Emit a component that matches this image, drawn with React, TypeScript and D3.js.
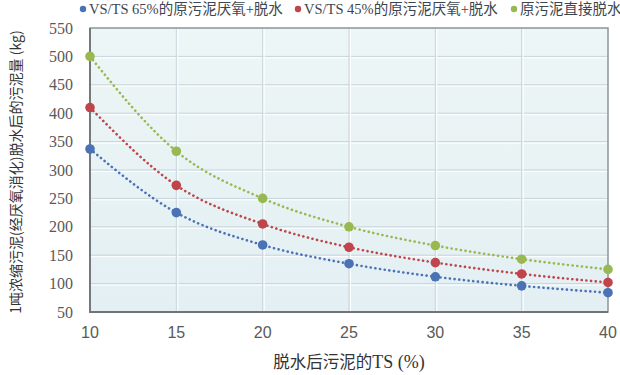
// 污泥量随脱水后TS变化 — Excel 风格平滑虚线图
import React, { useEffect, useRef } from 'react';
import * as d3 from 'd3';

const tsValues = [10, 15, 20, 25, 30, 35, 40];
const digested65 = [337, 225, 168, 135, 112, 96, 84];
const digested45 = [410, 273, 205, 164, 137, 117, 102];
const rawDewatered = [500, 333, 250, 200, 167, 143, 125];

const seriesNames = ['VS/TS 65%的原污泥厌氧+脱水', 'VS/TS 45%的原污泥厌氧+脱水', '原污泥直接脱水'];
const seriesColors = ['#4a72b5', '#c0444a', '#97b94f'];
const yTicks = [50, 100, 150, 200, 250, 300, 350, 400, 450, 500, 550];

const WIDTH = 620;
const HEIGHT = 375;

const App: React.FC = () => {
  const svgRef = useRef<SVGSVGElement>(null);

  useEffect(() => {
    if (!svgRef.current) return;
    const svg = d3.select(svgRef.current);
    svg.selectAll('*').remove();

    const left = 90, right = 608, top = 28, bottom = 312;

    const x = d3.scaleLinear().domain([10, 40]).range([left, right]);
    const y = d3.scaleLinear().domain([50, 550]).range([bottom, top]);

    // фон области построения
    const defs = svg.append('defs');
    const grad = defs.append('linearGradient')
      .attr('id', 'plot-bg')
      .attr('x1', '0%').attr('y1', '0%')
      .attr('x2', '0%').attr('y2', '100%');
    grad.append('stop').attr('offset', '0%').attr('stop-color', '#edf6f6');
    grad.append('stop').attr('offset', '100%').attr('stop-color', '#e3eff3');

    svg.append('rect')
      .attr('x', left).attr('y', top)
      .attr('width', right - left).attr('height', bottom - top)
      .attr('fill', 'url(#plot-bg)');

    // сетка
    const grid = svg.append('g');
    yTicks.slice(1, -1).forEach((t) => {
      grid.append('line')
        .attr('x1', left).attr('x2', right)
        .attr('y1', y(t)).attr('y2', y(t))
        .attr('stroke', '#c6d6dc').attr('stroke-width', 1);
      grid.append('line')
        .attr('x1', left).attr('x2', right)
        .attr('y1', y(t) + 1.5).attr('y2', y(t) + 1.5)
        .attr('stroke', '#ffffff').attr('stroke-width', 1);
    });
    tsValues.slice(1, -1).forEach((t) => {
      grid.append('line')
        .attr('x1', x(t)).attr('x2', x(t))
        .attr('y1', top).attr('y2', bottom)
        .attr('stroke', '#c6d6dc').attr('stroke-width', 1);
      grid.append('line')
        .attr('x1', x(t) + 1.5).attr('x2', x(t) + 1.5)
        .attr('y1', top).attr('y2', bottom)
        .attr('stroke', '#ffffff').attr('stroke-width', 1);
    });

    // рамка
    svg.append('rect')
      .attr('x', left).attr('y', top)
      .attr('width', right - left).attr('height', bottom - top)
      .attr('fill', 'none')
      .attr('stroke', '#8c9499').attr('stroke-width', 1.5);
    svg.append('path')
      .attr('d', `M${left},${top}V${bottom}H${right}`)
      .attr('fill', 'none')
      .attr('stroke', '#6f7478').attr('stroke-width', 1.8);

    // подписи осей
    svg.append('g')
      .selectAll('text')
      .data(yTicks)
      .enter()
      .append('text')
      .attr('x', 73)
      .attr('y', (d) => y(d))
      .attr('dy', '0.35em')
      .attr('text-anchor', 'end')
      .attr('font-family', 'Liberation Serif, Times New Roman, serif')
      .attr('font-size', 16)
      .attr('fill', '#595959')
      .text((d) => d);

    svg.append('g')
      .selectAll('text')
      .data(tsValues)
      .enter()
      .append('text')
      .attr('x', (d) => x(d))
      .attr('y', 338)
      .attr('text-anchor', 'middle')
      .attr('font-family', 'Liberation Sans, Arial, sans-serif')
      .attr('font-size', 16)
      .attr('fill', '#595959')
      .text((d) => d);

    // линии
    const allSeries = [digested65, digested45, rawDewatered];
    const line = d3.line<number>()
      .x((_, i) => x(tsValues[i]))
      .y((d) => y(d))
      .curve(d3.curveMonotoneX);

    allSeries.forEach((vals, si) => {
      svg.append('path')
        .datum(vals)
        .attr('d', line)
        .attr('fill', 'none')
        .attr('stroke', seriesColors[si])
        .attr('stroke-width', 2.6)
        .attr('stroke-linecap', 'round')
        .attr('stroke-dasharray', '0.1 4.6');
    });

    allSeries.forEach((vals, si) => {
      svg.append('g')
        .selectAll('circle')
        .data(vals)
        .enter()
        .append('circle')
        .attr('cx', (_, i) => x(tsValues[i]))
        .attr('cy', (d) => y(d))
        .attr('r', 4.8)
        .attr('fill', seriesColors[si]);
    });

    // легенда
    const legendX = [83, 298, 514];
    seriesNames.forEach((name, i) => {
      svg.append('circle')
        .attr('cx', legendX[i]).attr('cy', 9)
        .attr('r', 3.2)
        .attr('fill', seriesColors[i]);
      svg.append('text')
        .attr('x', legendX[i] + 6)
        .attr('y', 14)
        .attr('font-family', 'Liberation Serif, Noto Sans CJK SC, serif')
        .attr('font-size', 14.5)
        .attr('fill', '#3d4650')
        .text(name);
    });

    // заголовки осей
    const xTitle = svg.append('text')
      .attr('x', (left + right) / 2)
      .attr('y', 368)
      .attr('text-anchor', 'middle')
      .attr('font-family', 'Noto Sans CJK SC, sans-serif')
      .attr('font-size', 16.5)
      .attr('fill', '#333333');
    xTitle.append('tspan').text('脱水后污泥的');
    xTitle.append('tspan')
      .attr('font-family', 'Liberation Serif, Times New Roman, serif')
      .attr('font-size', 18)
      .text('TS (%)');

    svg.append('text')
      .attr('transform', `translate(21,${(top + bottom) / 2 + 2}) rotate(-90)`)
      .attr('text-anchor', 'middle')
      .attr('font-family', 'Noto Sans CJK SC, sans-serif')
      .attr('font-size', 14)
      .attr('fill', '#333333')
      .text('1吨浓缩污泥(经厌氧消化)脱水后的污泥量 (kg)');
  }, []);

  return (
    <svg
      ref={svgRef}
      width={WIDTH}
      height={HEIGHT}
      style={{ position: 'absolute', left: 0, top: 0, background: '#ffffff' }}
    />
  );
};

export default App;
